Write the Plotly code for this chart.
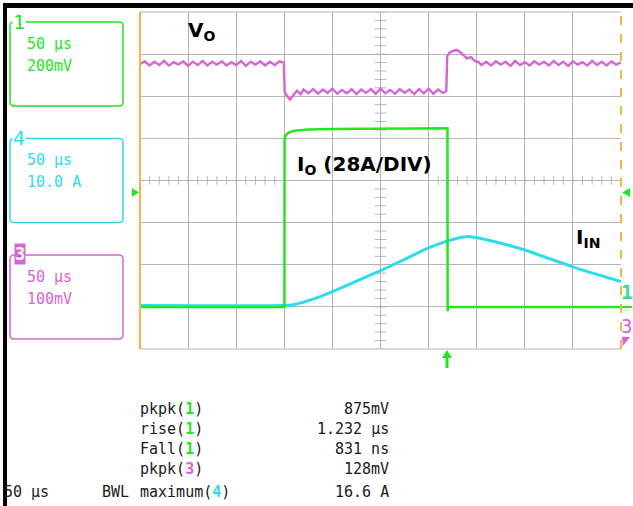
import plotly.graph_objects as go

# ---------------- data (time in µs, amplitude in screen divisions) ----------------
vo_t = [0, 5, 10, 15, 20, 25, 30, 35, 40, 45, 50, 55, 60, 65, 70, 75, 80, 85, 90, 95,
        100, 105, 110, 115, 120, 125, 130, 135, 140, 145,
        149.6, 150.4, 153, 156, 159, 163, 167, 170,
        175, 180, 185, 190, 195, 200, 205, 210, 215, 220, 225, 230, 235, 240, 245,
        250, 255, 260, 265, 270, 275, 280, 285, 290, 295, 300, 305, 310, 315,
        318.4, 319.4, 322, 326, 329, 332, 336, 340, 344, 348, 352,
        355, 360, 365, 370, 375, 380, 385, 390, 395, 400, 405, 410, 415, 420, 425,
        430, 435, 440, 445, 450, 455, 460, 465, 470, 475, 480, 485, 490, 495, 500]
vo_v = [2.76, 2.83, 2.73, 2.82, 2.74, 2.84, 2.73, 2.81, 2.75, 2.83, 2.72, 2.82, 2.74, 2.84, 2.73,
        2.82, 2.75, 2.83, 2.73, 2.81, 2.74, 2.84, 2.72, 2.82, 2.75, 2.83, 2.73, 2.82, 2.74, 2.83,
        2.80, 2.10, 2.00, 1.92, 2.01, 2.13, 2.05, 2.16,
        2.07, 2.17, 2.06, 2.16, 2.08, 2.18, 2.06, 2.15, 2.07, 2.17, 2.05, 2.16, 2.08, 2.17, 2.06,
        2.18, 2.07, 2.15, 2.06, 2.17, 2.08, 2.16, 2.05, 2.17, 2.07, 2.18, 2.06, 2.16, 2.08,
        2.12, 2.96, 3.04, 3.08, 3.10, 3.06, 2.97, 2.90, 2.93, 2.84, 2.81,
        2.74, 2.82, 2.73, 2.83, 2.75, 2.82, 2.72, 2.84, 2.74, 2.81, 2.73, 2.83, 2.75, 2.82, 2.73,
        2.84, 2.74, 2.82, 2.72, 2.83, 2.75, 2.81, 2.73, 2.84, 2.74, 2.82, 2.73, 2.83, 2.75, 2.80]

io_t = [0, 150.1, 150.3, 151.5, 153.5, 157, 163, 175, 200, 250, 300, 319.6, 319.8, 320.6, 500]
io_v = [-3.0, -3.0, 0.98, 1.06, 1.12, 1.16, 1.19, 1.21, 1.22, 1.23, 1.24, 1.24, -3.1, -3.0, -3.0]

iin_t = [0, 150, 156, 163, 175, 188, 200, 225, 250, 275, 300, 319, 330, 341, 350, 362,
         375, 400, 425, 450, 475, 500]
iin_v = [-2.97, -2.97, -2.96, -2.93, -2.85, -2.75, -2.64, -2.39, -2.14, -1.87, -1.60, -1.44,
         -1.37, -1.33, -1.36, -1.42, -1.49, -1.65, -1.85, -2.05, -2.23, -2.40]

channels = [("1", "50 µs", "200mV"), ("4", "50 µs", "10.0 A"), ("3", "50 µs", "100mV")]
meas_names = ["pkpk", "rise", "Fall", "pkpk", "maximum"]
meas_ch = ["1", "1", "1", "3", "4"]
meas_vals = ["875mV", "1.232 µs", "831 ns", "128mV", "16.6 A"]

# ---------------- style ----------------
GREEN = "#22e622"
CYAN = "#2ddcec"
MAG = "#d764d6"
GRID = "#b4b4b4"
ORANGE = "#f6b24c"
CH_COL = {"1": GREEN, "4": CYAN, "3": MAG}

W, H = 633, 506
L, R, T, B = 140, 12, 12, 157
PW, PH = W - L - R, H - T - B


def px(x):
    return (x - L) / PW


def py(y):
    return (H - B - y) / PH


fig = go.Figure()
fig.add_trace(go.Scatter(x=iin_t, y=iin_v, mode="lines", line=dict(color=CYAN, width=3, shape="spline", smoothing=0.6), hoverinfo="skip"))
fig.add_trace(go.Scatter(x=io_t, y=io_v, mode="lines", line=dict(color=GREEN, width=2.5), hoverinfo="skip"))
fig.add_trace(go.Scatter(x=vo_t, y=vo_v, mode="lines", line=dict(color=MAG, width=2.4), hoverinfo="skip"))

shapes = []
# center graticule tick marks
for i in range(51):
    tx = i * 10
    shapes.append(dict(type="line", xref="x", yref="y", x0=tx, x1=tx, y0=-0.1, y1=0.1,
                       line=dict(color=GRID, width=1), layer="below"))
for i in range(41):
    ty = -4 + i * 0.2
    shapes.append(dict(type="line", xref="x", yref="y", x0=244, x1=256, y0=ty, y1=ty,
                       line=dict(color=GRID, width=1), layer="below"))
# white box behind the I_O label
shapes.append(dict(type="rect", xref="x", yref="y", x0=142, x1=309, y0=-0.16, y1=0.96,
                   fillcolor="white", line=dict(width=0), layer="below"))
# graticule border
shapes.append(dict(type="line", xref="paper", yref="paper", x0=0, x1=1, y0=1, y1=1, line=dict(color=GRID, width=1)))
shapes.append(dict(type="line", xref="paper", yref="paper", x0=0, x1=1, y0=0, y1=0, line=dict(color=GRID, width=1)))
shapes.append(dict(type="line", xref="paper", yref="paper", x0=0, x1=0, y0=0, y1=1, line=dict(color=ORANGE, width=2)))
shapes.append(dict(type="line", xref="paper", yref="paper", x0=1, x1=1, y0=0, y1=1, line=dict(color=ORANGE, width=2, dash="dash")))
# black frame
shapes.append(dict(type="rect", xref="paper", yref="paper", x0=px(3), x1=px(634), y0=py(3), y1=py(8),
                   fillcolor="black", line=dict(width=0)))
shapes.append(dict(type="rect", xref="paper", yref="paper", x0=px(3), x1=px(7), y0=py(3), y1=py(507),
                   fillcolor="black", line=dict(width=0)))


def rrect(x0, y0, x1, y1, r):
    pts = [("M", x0 + r, y0), ("L", x1 - r, y0), ("Q", x1, y0, x1, y0 + r), ("L", x1, y1 - r),
           ("Q", x1, y1, x1 - r, y1), ("L", x0 + r, y1), ("Q", x0, y1, x0, y1 - r), ("L", x0, y0 + r),
           ("Q", x0, y0, x0 + r, y0)]
    s = ""
    for p in pts:
        if p[0] == "Q":
            s += f"Q{px(p[1]):.5f},{py(p[2]):.5f} {px(p[3]):.5f},{py(p[4]):.5f} "
        else:
            s += f"{p[0]}{px(p[1]):.5f},{py(p[2]):.5f} "
    return s + "Z"


annotations = []
box_tops = [22, 138.5, 255]
for (ch, tb, vd), top in zip(channels, box_tops):
    col = CH_COL[ch]
    shapes.append(dict(type="path", xref="paper", yref="paper", path=rrect(10, top, 123, top + 84, 4),
                       line=dict(color=col, width=1.5)))
    annotations.append(dict(x=px(25), y=py(top + 22), xref="paper", yref="paper", text=tb, showarrow=False,
                            xanchor="left", yanchor="middle", font=dict(family="DejaVu Sans Mono", size=15, color=col)))
    annotations.append(dict(x=px(25), y=py(top + 43.5), xref="paper", yref="paper", text=vd, showarrow=False,
                            xanchor="left", yanchor="middle", font=dict(family="DejaVu Sans Mono", size=15, color=col)))
    if ch == "3":
        annotations.append(dict(x=px(19.5), y=py(top - 1), xref="paper", yref="paper", text="<b>3</b>", showarrow=False,
                                xanchor="center", yanchor="middle", bgcolor=col, borderpad=0,
                                font=dict(family="DejaVu Sans Mono", size=17, color="white")))
    else:
        annotations.append(dict(x=px(19), y=py(top - 0.5), xref="paper", yref="paper", text=ch, showarrow=False,
                                xanchor="center", yanchor="middle", bgcolor="white", borderpad=0,
                                font=dict(family="DejaVu Sans Mono", size=20, color=col)))

# markers around the graticule
shapes.append(dict(type="path", xref="paper", yref="paper",
                   path=f"M{px(132)},{py(188)} L{px(139)},{py(192.5)} L{px(132)},{py(197)} Z",
                   fillcolor=GREEN, line=dict(width=0)))
shapes.append(dict(type="path", xref="paper", yref="paper",
                   path=f"M{px(630)},{py(188)} L{px(622)},{py(192.5)} L{px(630)},{py(197)} Z",
                   fillcolor=GREEN, line=dict(width=0)))
shapes.append(dict(type="path", xref="paper", yref="paper",
                   path=f"M{px(447)},{py(350)} L{px(452)},{py(358)} L{px(442)},{py(358)} Z",
                   fillcolor=GREEN, line=dict(width=0)))
shapes.append(dict(type="rect", xref="paper", yref="paper", x0=px(445.5), x1=px(448.5), y0=py(357), y1=py(368),
                   fillcolor=GREEN, line=dict(width=0)))
shapes.append(dict(type="line", xref="paper", yref="paper", x0=px(622), x1=px(632), y0=py(307), y1=py(307),
                   line=dict(color=GREEN, width=2)))
shapes.append(dict(type="path", xref="paper", yref="paper",
                   path=f"M{px(622)},{py(337)} L{px(630)},{py(337)} L{px(623)},{py(346)} Z",
                   fillcolor=MAG, line=dict(width=0)))
annotations.append(dict(x=px(626.5), y=py(292), xref="paper", yref="paper", text="<b>1</b>", showarrow=False,
                        xanchor="center", yanchor="middle", font=dict(family="DejaVu Sans Mono", size=20, color="#2de08a")))
annotations.append(dict(x=px(626.5), y=py(326), xref="paper", yref="paper", text="3", showarrow=False,
                        xanchor="center", yanchor="middle", font=dict(family="DejaVu Sans Mono", size=19, color=MAG)))

# trace labels
LBL = dict(family="DejaVu Sans", size=20, color="black")
annotations.append(dict(x=px(186), y=py(31), xref="paper", yref="paper", text="<b>V<sub>O</sub></b>", showarrow=False,
                        xanchor="left", yanchor="middle", font=LBL))
annotations.append(dict(x=px(295), y=py(165), xref="paper", yref="paper", text="<b>I<sub>O</sub> (28A/DIV)</b>",
                        showarrow=False, xanchor="left", yanchor="middle", font=LBL))
annotations.append(dict(x=px(574), y=py(238), xref="paper", yref="paper", text="<b>I<sub>IN</sub></b>", showarrow=False,
                        xanchor="left", yanchor="middle", font=LBL))

# measurement readout
row_y = [409, 429, 449, 469, 492]
MONO = dict(family="DejaVu Sans Mono", size=15, color="#1a1a1a")
for name, ch, val, yy in zip(meas_names, meas_ch, meas_vals, row_y):
    annotations.append(dict(x=px(138), y=py(yy), xref="paper", yref="paper",
                            text=f"{name}(<span style='color:{CH_COL[ch]}'><b>{ch}</b></span>)",
                            showarrow=False, xanchor="left", yanchor="middle", font=MONO))
    annotations.append(dict(x=px(391), y=py(yy), xref="paper", yref="paper", text=val,
                            showarrow=False, xanchor="right", yanchor="middle", font=MONO))
annotations.append(dict(x=px(2), y=py(492), xref="paper", yref="paper", text="50 µs", showarrow=False,
                        xanchor="left", yanchor="middle", font=MONO))
annotations.append(dict(x=px(100), y=py(492), xref="paper", yref="paper", text="BWL", showarrow=False,
                        xanchor="left", yanchor="middle", font=MONO))

fig.update_layout(
    width=W, height=H, autosize=False,
    margin=dict(l=L, r=R, t=T, b=B, pad=0),
    paper_bgcolor="white", plot_bgcolor="white",
    showlegend=False,
    shapes=shapes, annotations=annotations,
    xaxis=dict(range=[0, 500], dtick=50, tick0=0, showgrid=True, gridcolor=GRID, gridwidth=1,
               showticklabels=False, zeroline=False, showline=False, ticks=""),
    yaxis=dict(range=[-4, 4], dtick=1, tick0=0, showgrid=True, gridcolor=GRID, gridwidth=1,
               showticklabels=False, zeroline=False, showline=False, ticks=""),
)

fig.write_html("out.html", config={"displayModeBar": False},
               post_script="document.body.style.margin='0px';document.body.style.overflow='hidden';")
